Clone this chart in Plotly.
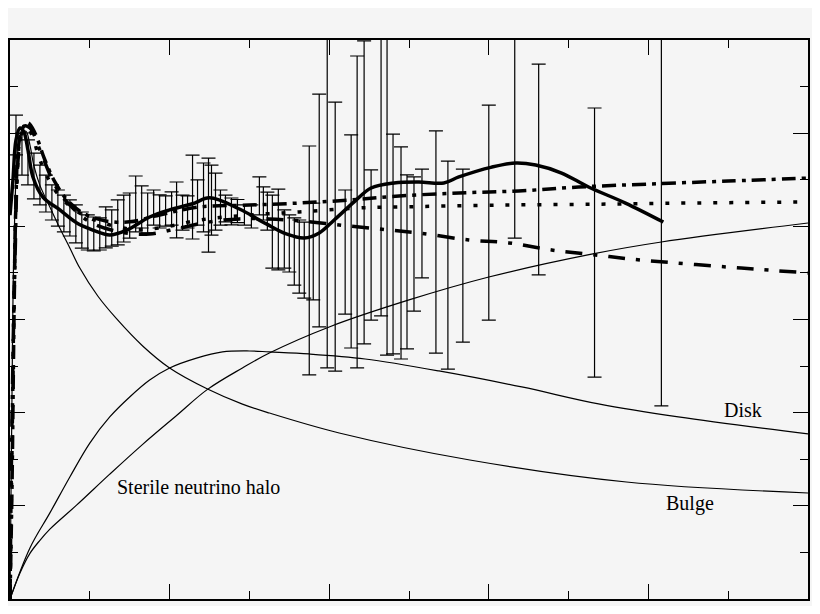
import plotly.graph_objects as go

# observed rotation curve (kpc, km/s) with errors
r_obs = [0.15, 0.30, 0.45, 0.60, 0.75, 0.90, 1.05, 1.20, 1.35, 1.50, 1.65, 1.80, 1.95, 2.10,
         2.25, 2.40, 2.55, 2.70, 2.85, 3.00, 3.15, 3.30, 3.45, 3.60, 3.75, 3.90, 4.05, 4.175,
         4.325, 4.45, 4.575, 4.70, 4.85, 4.975, 5.05, 5.15, 5.275, 5.40, 5.55, 5.70, 5.875,
         6.05, 6.25, 6.35, 6.45, 6.575, 6.725, 6.875, 7.00, 7.125, 7.25, 7.375, 7.50, 7.60,
         7.75, 7.95, 8.15, 8.40, 8.55, 8.70, 8.875, 9.05, 9.30, 9.45, 9.60, 9.80, 9.95,
         10.125, 10.325, 10.675, 10.975, 11.35, 12.00, 12.65, 13.25, 14.65, 16.325]
v_obs = [249.0, 238.8, 234.3, 227.0, 222.2, 217.6, 212.8, 209.8, 206.9, 204.5, 201.3, 198.0,
         196.7, 195.9, 195.9, 199.4, 199.1, 202.1, 204.2, 205.8, 212.0, 210.4, 207.2, 210.1,
         208.0, 208.2, 209.6, 208.8, 207.4, 207.7, 215.7, 212.8, 215.5, 211.4, 214.1, 213.3,
         210.1, 209.6, 208.0, 208.2, 206.1, 205.3, 216.3, 212.3, 208.2, 197.2, 198.3, 193.2,
         190.8, 186.5, 183.8, 181.9, 181.7, 186.5, 208.5, 214.7, 194.5, 186.2, 191.9, 207.7,
         218.2, 190.0, 231.3, 220.8, 190.5, 185.7, 180.9, 190.5, 201.5, 191.6, 179.2, 184.3,
         207.4, 252.2, 230.5, 191.3, 207.2]
dv_obs = [10.7, 11.3, 12.1, 12.3, 10.7, 9.9, 9.4, 9.7, 9.9, 9.7, 10.2, 9.7, 9.4, 9.1, 8.6,
          11.0, 9.7, 12.1, 12.6, 12.1, 15.0, 11.3, 10.7, 9.4, 8.9, 8.1, 8.9, 15.0, 9.4, 8.6,
          22.5, 12.1, 18.5, 25.2, 18.8, 15.3, 9.4, 7.2, 7.2, 6.2, 5.4, 6.2, 10.2, 8.9, 10.2,
          19.6, 21.7, 15.6, 15.3, 18.0, 19.6, 20.4, 61.4, 26.0, 62.5, 90.7, 72.2, 33.3, 57.2,
          83.7, 81.3, 40.3, 79.4, 89.9, 59.0, 56.9, 46.7, 36.0, 29.2, 59.6, 55.8, 46.4, 57.7,
          58.5, 56.6, 72.2, 103.6]

# components
r_bulge = [0, 0.05, 0.1, 0.2, 0.3, 0.4, 0.5, 0.6, 0.75, 1.0, 1.25, 1.5, 1.75, 2.2, 2.675,
           3.325, 4.0, 4.95, 5.825, 6.5, 8.25, 11.525, 15.45, 20.0]
v_bulge = [0, 110, 190, 241, 250, 251, 243.6, 232.4, 222, 210.4, 199, 188.4, 177.6, 162.6,
           150.3, 135.8, 124.0, 112.7, 104.6, 99.8, 89.1, 74.6, 62.8, 56.9]

r_disk = [0, 0.5, 1.0, 1.5, 2.0, 2.5, 3.0, 3.5, 4.0, 4.675, 5.325, 6.0, 6.5, 7.5, 8.9,
          10.75, 12.825, 14.75, 16.75, 20.0]
v_disk = [0, 27.4, 46.2, 65.5, 83.7, 97.7, 108.4, 117.5, 124.0, 129.3, 132.6, 133.1, 132.6,
          131.5, 128.8, 122.4, 113.8, 104.7, 97.7, 88.6]

r_halo = [0, 0.25, 0.5, 0.75, 1.0, 1.675, 2.5, 3.325, 4.175, 4.95, 5.825, 6.5, 8.0, 10.0,
          12.0, 14.575, 16.325, 20.0]
v_halo = [0, 14.0, 24.5, 31.5, 37.5, 50.5, 67.0, 83.0, 98.5, 112.5, 124.0, 132.0, 146.0,
          160.5, 172.8, 185.1, 191.6, 201.8]

# smoothed data curve
r_smooth = [0, 0.075, 0.15, 0.25, 0.35, 0.45, 0.575, 0.825, 1.25, 1.675, 2.075, 2.5, 2.925,
            3.5, 4.0, 4.575, 5.0, 5.75, 6.425, 6.925, 7.375, 7.75, 8.125, 8.625, 9.05, 9.625,
            10.25, 10.875, 11.25, 12.075, 12.675, 13.175, 13.825, 14.5, 15.425, 16.375]
v_smooth = [206.0, 224.9, 246.3, 252.8, 250.6, 241.0, 226.5, 215.7, 208.8, 201.8, 198.0,
            195.4, 198.0, 205.0, 208.8, 212.1, 215.3, 209.3, 201.3, 195.9, 193.7, 196.4,
            203.4, 213.1, 220.6, 223.3, 223.8, 223.3, 226.5, 231.8, 234.0, 232.9, 228.6,
            221.1, 212.5, 202.3]

# model totals
r_fit_a = [0, 0.05, 0.1, 0.15, 0.2, 0.3, 0.45, 0.625, 0.875, 1.125, 1.475, 1.875, 2.4, 3.0,
           3.75, 4.75, 6.0, 7.25, 8.5, 9.75, 11.25, 12.75, 14.25, 16.0, 18.0, 20.0]
v_fit_a = [0, 60, 150, 215, 240, 252, 255.5, 250.1, 235.6, 223.8, 213.1, 206.6, 202.9,
           202.4, 206.1, 210.4, 211.4, 212.5, 214.1, 216.3, 217.9, 219.0, 221.1, 222.7,
           224.3, 225.9]

r_fit_b = [0, 0.05, 0.1, 0.175, 0.275, 0.4, 0.55, 0.75, 1.125, 1.625, 2.25, 3.0, 3.75, 4.75,
           6.0, 7.25, 8.675, 9.75, 12.25, 14.75, 17.0, 20.0]
v_fit_b = [0, 80, 160.5, 224.9, 249, 253.3, 249, 235.6, 219.5, 208.8, 202.4, 198.6, 199.1,
           203.4, 206.1, 207.7, 209.8, 210.4, 211.4, 211.9, 212.5, 213.1]

r_fit_c = [0, 0.05, 0.125, 0.225, 0.35, 0.5, 0.75, 1.125, 1.5, 2.0, 2.75, 3.5, 4.25, 5.0,
           5.75, 6.5, 7.25, 8.25, 9.25, 10.25, 11.5, 12.5, 13.575, 14.675, 15.825, 18.325,
           20.0]
v_fit_c = [0, 96, 181.9, 241, 253.8, 252.8, 241, 222.2, 211.4, 202.4, 197, 195.9, 199.1,
           202.4, 204, 204, 202.9, 200.7, 198.6, 196.4, 192.7, 191.1, 187.3, 184.6, 181.9,
           177.6, 175.0]

thin = dict(color="black", width=1.2)
thick = 3.5

fig = go.Figure()

fig.add_trace(go.Scatter(x=r_bulge, y=v_bulge, mode="lines", line=thin, line_shape="spline"))
fig.add_trace(go.Scatter(x=r_disk, y=v_disk, mode="lines", line=thin, line_shape="spline"))
fig.add_trace(go.Scatter(x=r_halo, y=v_halo, mode="lines", line=thin, line_shape="spline"))

# error bars only, the points themselves are not drawn
fig.add_trace(go.Scatter(
    x=r_obs, y=v_obs, mode="markers",
    marker=dict(size=4, color="rgba(0,0,0,0)"),
    error_y=dict(type="data", array=dv_obs, color="black", thickness=1.2, width=7),
))

fig.add_trace(go.Scatter(x=r_fit_c, y=v_fit_c, mode="lines", line_shape="spline",
                         line=dict(color="black", width=thick, dash="17px,11px,4px,11px")))
fig.add_trace(go.Scatter(x=r_fit_b, y=v_fit_b, mode="lines", line_shape="spline",
                         line=dict(color="black", width=thick, dash="4px,12px")))
fig.add_trace(go.Scatter(x=r_fit_a, y=v_fit_a, mode="lines", line_shape="spline",
                         line=dict(color="black", width=thick, dash="14px,6px,4px,6px")))
fig.add_trace(go.Scatter(x=r_smooth, y=v_smooth, mode="lines", line_shape="spline",
                         line=dict(color="black", width=thick)))

label_font = dict(family="Liberation Serif, Times New Roman, serif", size=20, color="black")
fig.add_annotation(x=18.375, y=101.4, text="Disk", showarrow=False, font=label_font)
fig.add_annotation(x=4.725, y=60.1, text="Sterile neutrino halo", showarrow=False, font=label_font)
fig.add_annotation(x=17.05, y=51.5, text="Bulge", showarrow=False, font=label_font)

axis_style = dict(
    showgrid=False, zeroline=False, showticklabels=False,
    showline=True, linecolor="black", linewidth=1.5, mirror="ticks",
    ticks="inside", ticklen=15, tickwidth=1.2, tickcolor="black",
)
fig.update_xaxes(range=[0, 20], dtick=4, tick0=0,
                 minor=dict(ticks="inside", ticklen=8, dtick=2, tickwidth=1.2, tickcolor="black"),
                 **axis_style)
fig.update_yaxes(range=[0, 300], dtick=50, tick0=0,
                 minor=dict(ticks="inside", ticklen=8, dtick=25, tickwidth=1.2, tickcolor="black"),
                 **axis_style)

# page body adds an 8px margin, so the figure is a bit smaller than the window
fig.update_layout(
    width=804, height=598,
    margin=dict(l=2, r=2, t=32, b=7),
    paper_bgcolor="#f5f5f5", plot_bgcolor="#f5f5f5",
    showlegend=False,
)

fig.write_html("out.html")
